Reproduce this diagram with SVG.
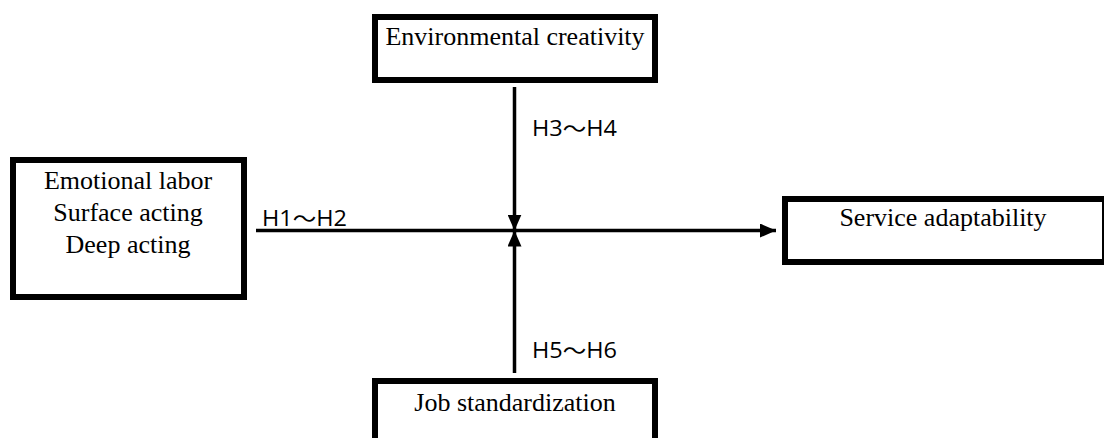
<svg xmlns="http://www.w3.org/2000/svg" width="1104" height="438" viewBox="0 0 1104 438">
  <style>
    .box { fill: #ffffff; stroke: #000000; stroke-width: 6; }
    .label { font-family: "Liberation Serif", "Times New Roman", serif; font-size: 26px; fill: #000000; text-anchor: middle; }
    .hyp { font-family: "Open Sans", "Noto Sans CJK JP", sans-serif; font-size: 21px; fill: #000000; }
    .link { stroke: #000000; stroke-width: 3.5; fill: none; }
  </style>
  <defs>
    <marker id="head" viewBox="0 0 16 14" refX="16" refY="7" markerWidth="16" markerHeight="14" markerUnits="userSpaceOnUse" orient="auto">
      <path d="M0,0 L16,7 L0,14 Z" fill="#000000"/>
    </marker>
  </defs>
  <rect x="0" y="0" width="1104" height="438" fill="#ffffff"/>

  <g id="connectors">
    <line class="link" x1="256" y1="230.5" x2="776" y2="230.5" marker-end="url(#head)"/>
    <line class="link" x1="514.5" y1="87" x2="514.5" y2="230.5" marker-end="url(#head)"/>
    <line class="link" x1="514.5" y1="373" x2="514.5" y2="230.5" marker-end="url(#head)"/>
    <text class="hyp" x="262" y="226" textLength="85" lengthAdjust="spacingAndGlyphs">H1～H2</text>
    <text class="hyp" x="532" y="136" textLength="85" lengthAdjust="spacingAndGlyphs">H3～H4</text>
    <text class="hyp" x="532" y="358" textLength="85" lengthAdjust="spacingAndGlyphs">H5～H6</text>
  </g>

  <g id="environmental-creativity">
    <rect class="box" x="375" y="17" width="280" height="63"/>
    <text class="label" x="515" y="45">Environmental creativity</text>
  </g>

  <g id="emotional-labor">
    <rect class="box" x="13" y="160" width="231" height="137"/>
    <text class="label" x="128" y="189">Emotional labor</text>
    <text class="label" x="128" y="221">Surface acting</text>
    <text class="label" x="128" y="253">Deep acting</text>
  </g>

  <g id="service-adaptability">
    <rect class="box" x="785" y="199" width="320" height="63"/>
    <text class="label" x="943" y="226">Service adaptability</text>
  </g>

  <g id="job-standardization">
    <rect class="box" x="375" y="381" width="280" height="70"/>
    <text class="label" x="515" y="411">Job standardization</text>
  </g>
</svg>
